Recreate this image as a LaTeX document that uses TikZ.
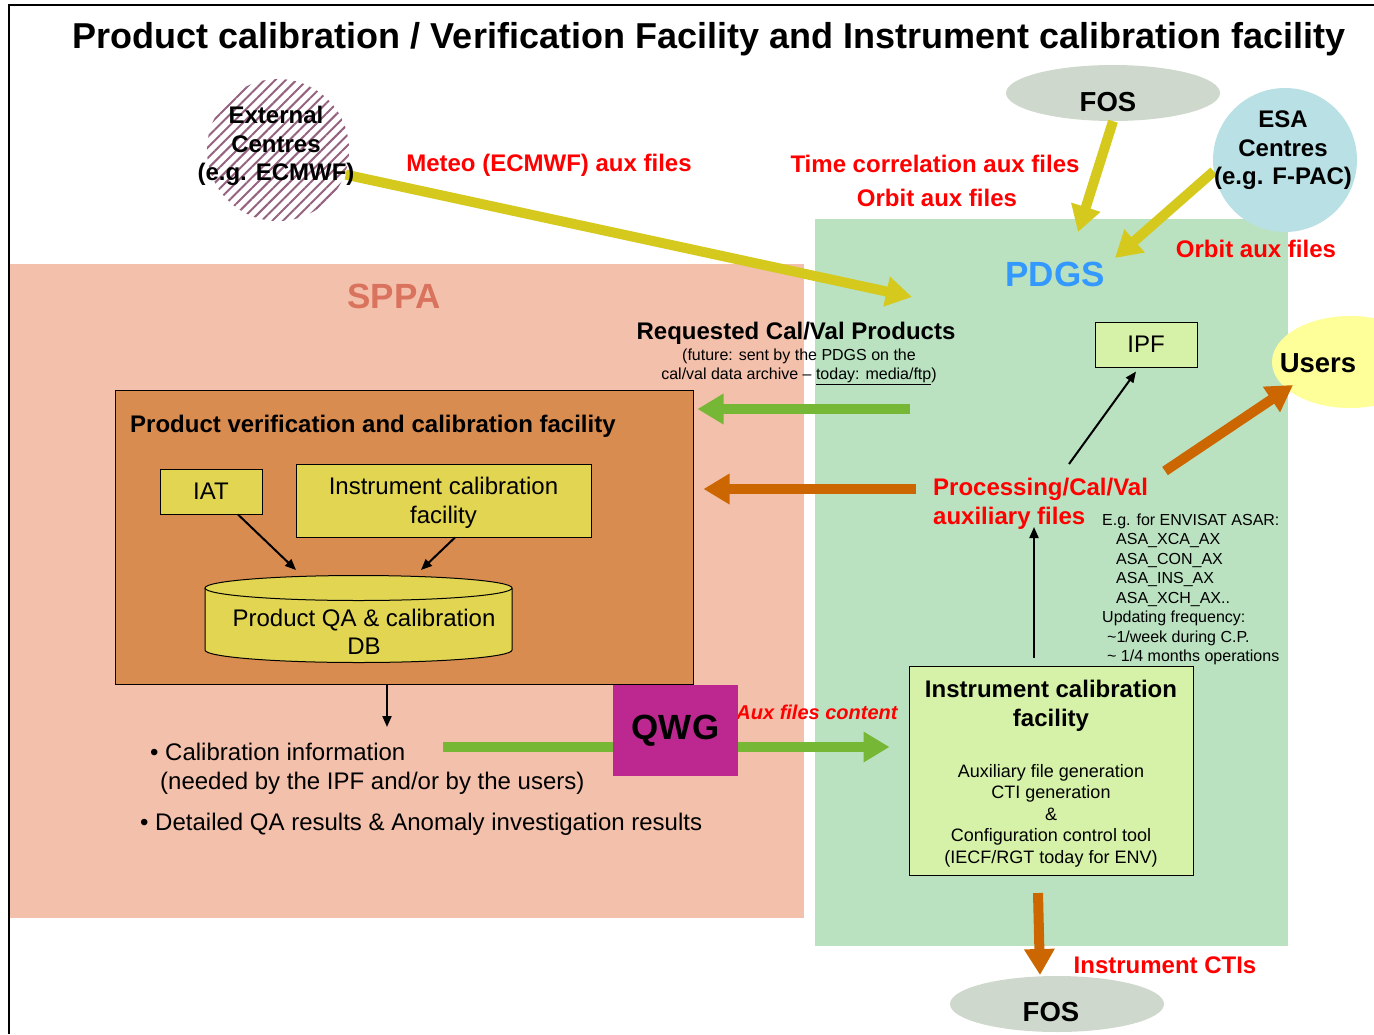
\documentclass[tikz,border=0pt]{standalone}
\usepackage{fontspec}
\setmainfont{Liberation Sans}
\usetikzlibrary{calc,positioning,arrows.meta,shapes.geometric,patterns.meta}

\definecolor{sppafill}{HTML}{F2C0AB}
\definecolor{pdgsfill}{HTML}{BAE2C1}
\definecolor{pvcffill}{HTML}{D98C50}
\definecolor{yelfill}{HTML}{E1D552}
\definecolor{limefill}{HTML}{D6F2A8}
\definecolor{qwgfill}{HTML}{BD2890}
\definecolor{usersfill}{HTML}{FFFF99}
\definecolor{fosfill}{HTML}{CFD8CC}
\definecolor{esafill}{HTML}{B9E0E4}
\definecolor{hatch}{HTML}{94617F}
\definecolor{yelarrow}{HTML}{D4C91C}
\definecolor{grnarrow}{HTML}{77B736}
\definecolor{orgarrow}{HTML}{CC6600}
\definecolor{sppatext}{HTML}{D9735E}
\definecolor{pdgstext}{HTML}{3399FF}

\newcommand{\fsz}[2]{\fontsize{#1}{#2}\selectfont}

\begin{document}
\begin{tikzpicture}[x=1pt,y=1pt,
  lbl/.style={text=red,font=\fsz{24}{28}\bfseries},
  boxtxt/.style={font=\fsz{24}{28.5},align=center},
  yelbox/.style={draw,line width=1pt,fill=yelfill,inner sep=0pt},
  limebox/.style={draw,line width=1pt,fill=limefill,inner sep=0pt},
  bigarrow/.style={line width=10pt,-{Triangle[length=26pt,width=29pt]}},
  thinarrow/.style={line width=2pt,-{Triangle[length=11pt,width=9pt]}},
  ]

  \useasboundingbox (0,0) rectangle (1374,-1034);
  \clip (0,0) rectangle (1374,-1034);

  % SPPA and PDGS areas
  \fill[sppafill] (9,-264) rectangle (804,-918);
  \fill[pdgsfill] (815,-219) rectangle (1288,-946);
  \draw[line width=2pt] (9,-1034) -- (9,-5) -- (1374,-5);

  \node[font=\fsz{36}{40}\bfseries] (title) at (709,-39)
    {Product calibration / Verification Facility and Instrument calibration facility};
  \node[font=\fsz{35}{40}\bfseries,text=sppatext] (sppa) at (394,-296) {SPPA};
  \node[font=\fsz{35}{40}\bfseries,text=pdgstext] (pdgs) at (1055,-274) {PDGS};

  % outside centres
  \node[circle,minimum size=142,inner sep=0,
    pattern={Lines[angle=45,distance=7.5pt,line width=2pt]},pattern color=hatch] (ext) at (278,-150) {};
  \node[ellipse,fill=fosfill,minimum width=214,minimum height=56,inner sep=0] (fost) at (1113,-93) {};
  \node[circle,fill=esafill,minimum size=144,inner sep=0] (esa) at (1285,-160) {};
  \fill[usersfill] (1350,-362) ellipse[x radius=78,y radius=46];
  \node[ellipse,fill=fosfill,minimum width=214,minimum height=56,inner sep=0] (fosb) at (1057,-1004) {};

  \coordinate (extend) at (912,-297);
  \coordinate (fosend) at (1078,-232);
  \coordinate (esaend) at (1115,-258);
  \draw[bigarrow,yelarrow] (ext.-20) -- (extend);
  \draw[bigarrow,yelarrow] (fost.south) -- (fosend);
  \draw[bigarrow,yelarrow] (esa.189) -- (esaend);

  \node[boxtxt,font=\fsz{24}{28.5}\bfseries] (exttxt) at (276,-146) {External\\Centres\\(e.g. ECMWF)};
  \node[font=\fsz{27.5}{30}\bfseries] (fosttxt) at (1108,-102) {FOS};
  \node[boxtxt,font=\fsz{24}{28.5}\bfseries] (esatxt) at (1283,-150.5) {ESA\\Centres\\(e.g. F-PAC)};
  \node[font=\fsz{27.5}{30}\bfseries] (users) at (1318,-363) {Users};
  \node[font=\fsz{27.5}{30}\bfseries] (fosbtxt) at (1051,-1012) {FOS};

  % labels of the flows
  \node[lbl] (meteo) at (549,-165) {Meteo (ECMWF) aux files};
  \node[lbl] (timecor) at (935,-164) {Time correlation aux files};
  \node[lbl] (orbit) at (937,-198) {Orbit aux files};
  \node[lbl] (orbitesa) at (1256,-249) {Orbit aux files};
  \node[font=\fsz{24}{28}\bfseries] (req) at (796,-333) {Requested Cal/Val Products};
  \node[font=\fsz{16}{19},align=center] (reqnote) at (799,-367)
    {(future: sent by the PDGS on the\\cal/val data archive -- \underline{today: media/ftp})};
  \node[lbl,anchor=west,align=left,inner sep=0,font=\fsz{24}{29}\bfseries] (proc) at (933,-503.5)
    {Processing/Cal/Val\\auxiliary files};
  \node[anchor=west,align=left,inner sep=0,font=\fsz{16}{19.5}] (envisat) at (1102,-589.5)
    {E.g. for ENVISAT ASAR:\\
     \hspace*{14pt}ASA\_XCA\_AX\\
     \hspace*{14pt}ASA\_CON\_AX\\
     \hspace*{14pt}ASA\_INS\_AX\\
     \hspace*{14pt}ASA\_XCH\_AX..\\
     Updating frequency:\\
     \hspace*{5pt}\textasciitilde1/week during C.P.\\
     \hspace*{5pt}\textasciitilde\ 1/4 months operations};
  \node[lbl,font=\fsz{20}{24}\bfseries\itshape] (auxc) at (817,-712) {Aux files content};
  \node[lbl] (ctis) at (1165,-965) {Instrument CTIs};

  % SPPA facility
  \node[draw,line width=1pt,fill=pvcffill,minimum width=578,minimum height=294,inner sep=0] (pvcf) at (404,-537) {};
  \node[anchor=west,inner sep=0,font=\fsz{24}{28}\bfseries] (pvcftitle) at (130,-426)
    {Product verification and calibration facility};
  \node[yelbox,boxtxt,minimum width=102,minimum height=45] (iat) at (211,-491.5) {IAT};
  \node[yelbox,minimum width=295,minimum height=73] (icf) at (443.5,-500.5) {};
  \node[boxtxt,font=\fsz{24}{29}] (icftxt) at (443.5,-503) {Instrument calibration\\facility};
  \filldraw[fill=yelfill,line width=1pt] (205,-588) -- (205,-650)
    arc[start angle=180,end angle=360,x radius=153.5,y radius=12.5] -- (512,-588)
    arc[start angle=0,end angle=180,x radius=153.5,y radius=12.5] -- cycle;
  \draw[line width=1pt] (205,-588) arc[start angle=180,end angle=360,x radius=153.5,y radius=12.5];
  \node[boxtxt] (db) at (364,-632) {Product QA \& calibration\\DB};
  \coordinate (dbl) at (296,-570);
  \coordinate (dbr) at (421,-570);
  \draw[thinarrow] ([xshift=27]iat.south) -- (dbl);
  \draw[thinarrow] ([xshift=11.5]icf.south) -- (dbr);
  \coordinate (calout) at (387,-727);
  \draw[thinarrow] ([xshift=-17]pvcf.south) -- (calout);

  \node[anchor=west,align=left,inner sep=0,font=\fsz{24}{29}] (calinfo) at (150,-768.5)
    {\textbullet\ Calibration information\\\hspace*{10pt}(needed by the IPF and/or by the users)};
  \node[anchor=west,inner sep=0,font=\fsz{24}{29}] (qares) at (140,-824)
    {\textbullet\ Detailed QA results \& Anomaly investigation results};

  % PDGS facility
  \node[limebox,boxtxt,minimum width=102,minimum height=45] (ipf) at (1146,-344.5) {IPF};
  \node[limebox,minimum width=284,minimum height=209] (icfp) at (1051,-770.5) {};
  \node[boxtxt,font=\fsz{24}{29}\bfseries] (icfptitle) at (1051,-705.5) {Instrument calibration\\facility};
  \node[align=center,font=\fsz{18}{21.5}] (icfpbody) at (1051,-815.5)
    {Auxiliary file generation\\CTI generation\\\&\\Configuration control tool\\(IECF/RGT today for ENV)};

  % flows
  \coordinate (gstart) at (443,-747);
  \draw[bigarrow,grnarrow] (gstart) -- (gstart -| icfp.west) [shorten >=19pt];
  \node[fill=qwgfill,minimum width=125,minimum height=91,inner sep=0,font=\fsz{35}{40}\bfseries] (qwg) at (675.5,-730.5) {QWG};

  \coordinate (reqstart) at (910,-409);
  \draw[bigarrow,grnarrow] (reqstart) -- (pvcf.east |- reqstart) [shorten >=4pt];
  \coordinate (procl) at (916,-489);
  \draw[bigarrow,orgarrow] (procl) -- (pvcf.east |- procl) [shorten >=10pt];
  \coordinate (usrstart) at (1165,-471);
  \coordinate (usrend) at (1293,-385);
  \draw[bigarrow,orgarrow] (usrstart) -- (usrend);
  \coordinate (ctistart) at (1038,-893);
  \coordinate (ctiend) at (1040,-975);
  \draw[bigarrow,orgarrow] (ctistart) -- (ctiend);

  \coordinate (ipfarr) at (1069,-464);
  \draw[thinarrow] (ipfarr) -- ([xshift=-10,yshift=-4]ipf.south);
  \coordinate (procs) at (1034,-527);
  \draw[thinarrow] ([xshift=-17]icfp.north) [shorten <=8pt] -- (procs);

\end{tikzpicture}
\end{document}
